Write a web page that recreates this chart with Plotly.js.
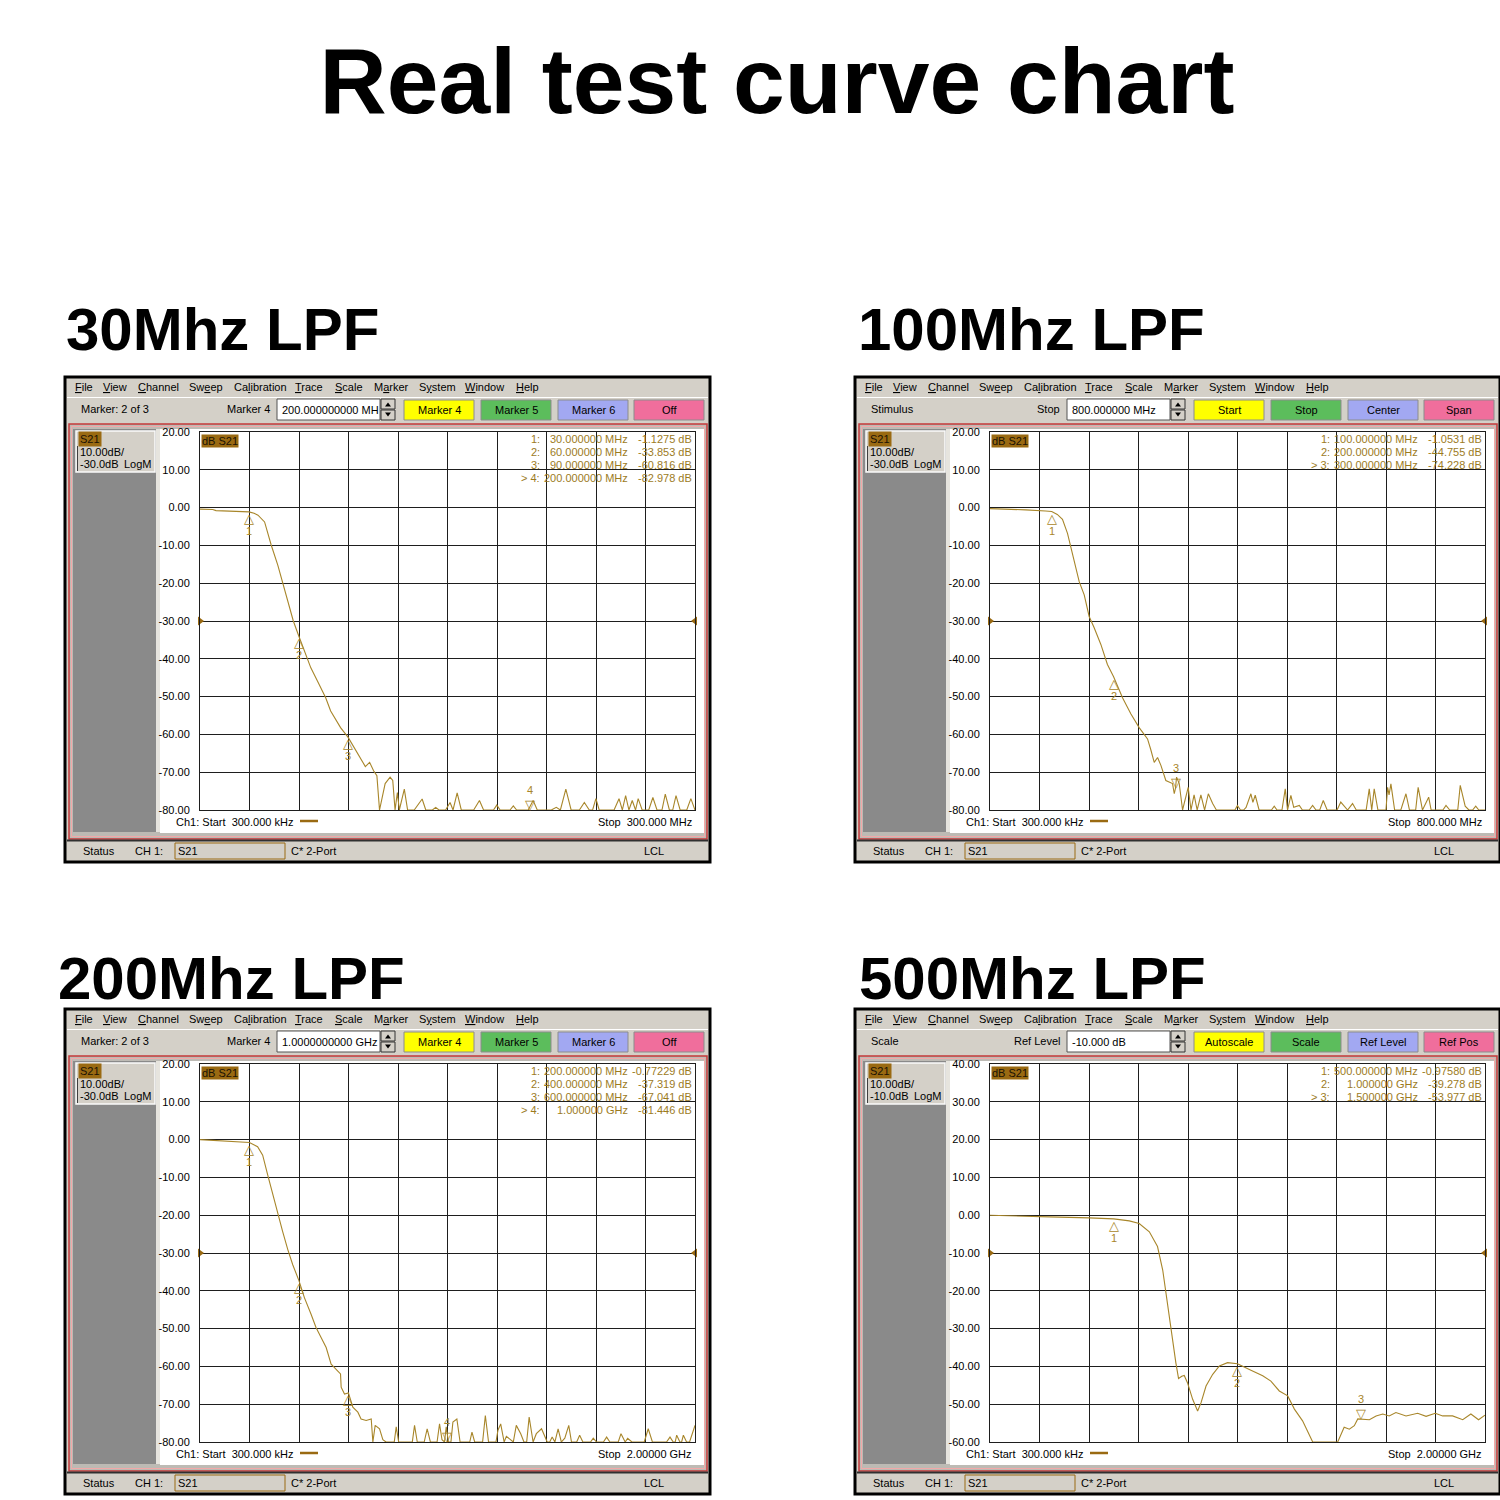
<!DOCTYPE html>
<html><head><meta charset="utf-8">
<script src="https://cdn.plot.ly/plotly-3.0.1.min.js"></script>
<style>html,body{margin:0;padding:0;background:#fff}#chart{width:1500px;height:1500px}</style>
</head><body><div id="chart"></div>
<script>
// ---------------- DATA ----------------
const titleText = 'Real test curve chart';
const headings = ['30Mhz LPF', '100Mhz LPF', '200Mhz LPF', '500Mhz LPF'];

// Panel 1: 30 MHz LPF (MHz, dB)
const p1FreqA = [0.3, 8, 10, 25, 30, 33, 35.4, 39.4, 43.4, 47.4, 50.4, 53.4, 56.8, 60, 63.4, 67.4, 71.4, 76.4, 79.4, 85.4, 90, 95.4, 98.4, 100.4, 103, 105.4, 107.4, 109, 112.4, 115.4, 117, 118.4, 119.8, 121, 124, 126];
const p1GainA = [-0.4, -0.5, -0.8, -1.0, -1.13, -1.5, -2.0, -3.8, -9.9, -15.2, -20, -24.8, -30, -33.85, -38, -42.4, -45.9, -50.3, -53.8, -58.2, -60.8, -64.7, -66.9, -68.5, -67.4, -69.6, -70.9, -80, -73, -71.3, -72.2, -80, -75.4, -80, -74.5, -80];
const p1FreqB = [130, 134.8, 137, 141, 143, 145, 149, 151.7, 153.5, 156, 158.5, 166, 169.5, 172, 178, 180, 182, 188, 190, 192, 196, 199, 202, 204.5, 213, 216, 218.5, 221.8, 225, 230, 233, 236, 238, 240, 242, 251, 254, 256, 258, 260, 262, 264, 265.6, 268, 272, 274.5, 277, 280, 282, 284.5, 286.5, 288.5, 291, 295, 297.5, 300];
const p1GainB = [-80, -77.1, -80, -80, -79.3, -80, -80, -78, -80, -75.5, -80, -80, -77.5, -80, -80, -78.7, -80, -80, -78.9, -80, -80, -80, -77.5, -80, -80, -79.3, -80, -74.5, -80, -80, -78, -80, -80, -77, -80, -80, -77, -80, -76.2, -80, -77.5, -80, -77, -80, -80, -76.7, -80, -80, -75.8, -80, -80, -76.2, -80, -80, -77, -80];
const p1MarkFreq = [30, 60, 90, 200];
const p1MarkVal = [-1.1275, -33.853, -60.816, -82.978];
const p1Table = [['1:', '30.000000 MHz', '-1.1275 dB'], ['2:', '60.000000 MHz', '-33.853 dB'], ['3:', '90.000000 MHz', '-60.816 dB'], ['> 4:', '200.000000 MHz', '-82.978 dB']];

// Panel 2: 100 MHz LPF
const p2FreqA = [0.3, 39, 58, 90, 100, 109, 117.4, 125.5, 133.6, 144.4, 152.5, 160.5, 168.6, 179.4, 190, 200, 214.4, 228, 241.3, 254.8, 260, 265.6, 271, 276.4, 284.4, 295.2, 298, 300, 301.7, 306, 311.4];
const p2GainA = [-0.26, -0.4, -0.6, -0.9, -1.05, -1.8, -3.1, -6.8, -12.1, -19.6, -23.1, -28.8, -31.8, -36.2, -41.5, -44.76, -50.3, -54.6, -58.2, -61.2, -64, -67.4, -66.1, -68.2, -72.2, -73, -75.7, -74.2, -71.3, -73, -80];
const p2FreqB = [320.5, 325, 330, 335, 341, 347, 353, 360, 366, 396, 400, 405, 410, 414, 421.8, 425, 428.8, 435, 455, 459.5, 464, 472, 477.3, 481, 486.4, 491, 500, 505, 516, 521.5, 527, 533, 538.7, 545, 561, 567, 572, 578, 586, 592, 608, 613, 617, 621, 627, 640, 642.7, 645, 648, 654, 664, 672.3, 678, 688, 692, 699, 709, 713, 732, 737, 743, 756, 760, 768, 774, 780, 785, 790, 800];
const p2GainB = [-74, -80, -76, -80, -76, -80, -75.7, -78.3, -80, -80, -78.8, -80, -80, -79.3, -75.7, -78, -76.1, -80, -80, -79, -80, -80, -74.4, -80, -76.1, -79.3, -78.8, -80, -80, -78.8, -80, -80, -77.5, -80, -80, -77.9, -78.8, -80, -78.3, -80, -80, -74.4, -80, -74.4, -80, -80, -74, -76, -73.1, -80, -80, -75.7, -80, -80, -74, -80, -76.6, -80, -80, -78.8, -80, -80, -73.5, -79, -80, -80, -79, -80, -80];
const p2MarkFreq = [100, 200, 300];
const p2MarkVal = [-1.0531, -44.755, -74.228];
const p2Table = [['1:', '100.000000 MHz', '-1.0531 dB'], ['2:', '200.000000 MHz', '-44.755 dB'], ['> 3:', '300.000000 MHz', '-74.228 dB']];

// Panel 3: 200 MHz LPF
const p3FreqA = [0.3, 112, 180, 200, 233, 253.5, 274, 294, 314, 334, 355, 375, 400, 422, 449, 469, 490, 510, 530, 550.6, 568, 570.6, 584, 600, 617.7, 638, 651, 671.6, 692, 698.6, 708, 725.6, 739, 752];
const p3GainA = [0, -0.35, -0.6, -0.77, -1.9, -4.1, -9.4, -14.6, -19.5, -24.3, -29.1, -33.1, -37.32, -41.8, -46.2, -49.7, -52.4, -55, -59.4, -60.7, -62, -65.5, -67.3, -67.04, -70.8, -72.1, -73.9, -74.3, -73.9, -80, -75.6, -76.5, -79.4, -80];
const p3FreqB = [785, 793, 803, 820, 858, 867, 878, 906, 918, 931, 958, 968, 978, 988, 995, 1004, 1014, 1022, 1038, 1051, 1090, 1099, 1110, 1142, 1153, 1166, 1196, 1204, 1215, 1229, 1238, 1266, 1278, 1296, 1309, 1320, 1330, 1346, 1359, 1380, 1390, 1403, 1413, 1423, 1434, 1447, 1460, 1474, 1490, 1501, 1522, 1534, 1547, 1578, 1589, 1602, 1630, 1643, 1656, 1690, 1701, 1718, 1728, 1745, 1795, 1811, 1828, 1885, 1899, 1912, 1920, 1926, 1939, 1946, 1953, 1966, 1978, 2000];
const p3GainB = [-80, -76, -80, -80, -80, -75.6, -80, -80, -76.5, -80, -80, -75.2, -79.4, -80, -76, -80, -80, -74.7, -73.9, -80, -80, -77.4, -80, -80, -73, -80, -80, -76.9, -75.2, -80, -78.5, -80, -75.6, -77.8, -80, -80, -73.4, -80, -77.8, -76.5, -78.2, -80, -80, -78.7, -80, -76.5, -80, -79, -75.6, -80, -80, -78.2, -80, -80, -79, -80, -80, -78.7, -80, -80, -77.8, -80, -79, -80, -80, -76.5, -80, -80, -78.7, -80, -80, -78.2, -80, -80, -78.2, -80, -80, -75.6];
const p3MarkFreq = [200, 400, 600, 1000];
const p3MarkVal = [-0.77229, -37.319, -67.041, -81.446];
const p3Table = [['1:', '200.000000 MHz', '-0.77229 dB'], ['2:', '400.000000 MHz', '-37.319 dB'], ['3:', '600.000000 MHz', '-67.041 dB'], ['> 4:', '1.000000 GHz', '-81.446 dB']];

// Panel 4: 500 MHz LPF
const p4Freq = [0.3, 112, 240, 401, 500, 563, 603, 644, 677, 698, 711, 724, 738, 751, 762, 775, 785, 798, 819, 839, 853, 873, 900, 927, 960, 1000, 1048, 1102, 1135, 1169, 1203, 1230, 1263, 1283, 1304, 1405, 1431, 1452, 1472, 1486, 1500, 1533, 1560, 1587, 1613, 1640, 1681, 1728, 1762, 1799, 1829, 1869, 1910, 1943, 1974, 2000];
const p4Gain = [0, -0.26, -0.44, -0.7, -0.98, -1.5, -2.2, -4.4, -8.3, -14.5, -20.6, -27.6, -33.8, -39, -43.2, -42.6, -42.4, -44.3, -48.7, -51.8, -49.6, -45.2, -42.1, -39.9, -39, -39.28, -40.8, -42.5, -43.9, -46.5, -47.8, -51.3, -54.4, -57, -60, -60, -56.1, -56.6, -55.7, -53.9, -53.98, -54.1, -53.1, -52.6, -53.1, -52.2, -53.1, -52.4, -53.2, -52.4, -53.1, -53.1, -54.1, -52.6, -54.1, -52.9];
const p4MarkFreq = [500, 1000, 1500];
const p4MarkVal = [-0.9758, -39.278, -53.977];
const p4Table = [['1:', '500.000000 MHz', '-0.97580 dB'], ['2:', '1.000000 GHz', '-39.278 dB'], ['> 3:', '1.500000 GHz', '-53.977 dB']];

// axis ticks
const yTicksA = [20, 10, 0, -10, -20, -30, -40, -50, -60, -70, -80];
const yLabelsA = ['20.00', '10.00', '0.00', '-10.00', '-20.00', '-30.00', '-40.00', '-50.00', '-60.00', '-70.00', '-80.00'];
const yTicksB = [40, 30, 20, 10, 0, -10, -20, -30, -40, -50, -60];
const yLabelsB = ['40.00', '30.00', '20.00', '10.00', '0.00', '-10.00', '-20.00', '-30.00', '-40.00', '-50.00', '-60.00'];

// UI texts
const menuItems = ['<u>F</u>ile', '<u>V</u>iew', '<u>C</u>hannel', 'Sw<u>e</u>ep', 'Ca<u>l</u>ibration', '<u>T</u>race', '<u>S</u>cale', 'M<u>a</u>rker', 'S<u>y</u>stem', '<u>W</u>indow', '<u>H</u>elp'];
const menuX = [74, 102, 137, 188, 233, 294, 334, 373, 418, 464, 515];
const toolbarLeft = ['Marker: 2 of 3', 'Stimulus', 'Marker: 2 of 3', 'Scale'];
const toolbarLabel = ['Marker 4', 'Stop', 'Marker 4', 'Ref Level'];
const toolbarBox = ['200.000000000 MH', '800.000000 MHz', '1.0000000000 GHz', '-10.000 dB'];
const buttonTexts = [['Marker 4', 'Marker 5', 'Marker 6', 'Off'], ['Start', 'Stop', 'Center', 'Span'], ['Marker 4', 'Marker 5', 'Marker 6', 'Off'], ['Autoscale', 'Scale', 'Ref Level', 'Ref Pos']];
const refTexts = ['-30.0dB', '-30.0dB', '-30.0dB', '-10.0dB'];
const stopTexts = ['Stop  300.000 MHz', 'Stop  800.000 MHz', 'Stop  2.00000 GHz', 'Stop  2.00000 GHz'];

// ---------------- DRAWING ----------------
const W = 1500;
const FONT = 'Liberation Sans, Arial, sans-serif';
const TRACE = '#a8862a';
const MTXT = '#9c7b1e';
const BROWN = '#9a6a12';
const GRAY = '#d4d0c8';
const PX = x => x / W, PY = y => 1 - y / W;
const shapes = [], ann = [];

function rect(x0, y0, x1, y1, fill, line, lw) {
  shapes.push({type: 'rect', xref: 'paper', yref: 'paper', x0: PX(x0), x1: PX(x1), y0: PY(y1), y1: PY(y0),
    fillcolor: fill || 'rgba(0,0,0,0)', line: {color: line || 'rgba(0,0,0,0)', width: line ? (lw || 1) : 0}, layer: 'below'});
}
function seg(x0, y0, x1, y1, c, w) {
  shapes.push({type: 'line', xref: 'paper', yref: 'paper', x0: PX(x0), x1: PX(x1), y0: PY(y0), y1: PY(y1), line: {color: c, width: w || 1}, layer: 'below'});
}
function poly(pts, fill) {
  const d = pts.map((p, k) => (k ? 'L' : 'M') + PX(p[0]).toFixed(5) + ',' + PY(p[1]).toFixed(5)).join(' ') + ' Z';
  shapes.push({type: 'path', xref: 'paper', yref: 'paper', path: d, fillcolor: fill, line: {width: 0}, layer: 'below'});
}
function txt(x, y, t, o) {
  o = o || {};
  ann.push({xref: 'paper', yref: 'paper', x: PX(x), y: PY(y), text: t, showarrow: false,
    xanchor: o.anchor || 'left', yanchor: 'middle', borderpad: o.pad === undefined ? 0 : o.pad,
    bgcolor: o.bg || 'rgba(0,0,0,0)',
    font: {family: FONT, size: o.size || 11, color: o.color || '#000'}});
}

const panels = [
  {ox: 0, oy: 0, hx: 65, hy: 330, f: p1FreqA.concat(p1FreqB), g: p1GainA.concat(p1GainB), stop: 300, ymin: -80, ymax: 20, ref: -30, tv: yTicksA, tl: yLabelsA, mf: p1MarkFreq, mv: p1MarkVal, table: p1Table},
  {ox: 790, oy: 0, hx: 857, hy: 330, f: p2FreqA.concat(p2FreqB), g: p2GainA.concat(p2GainB), stop: 800, ymin: -80, ymax: 20, ref: -30, tv: yTicksA, tl: yLabelsA, mf: p2MarkFreq, mv: p2MarkVal, table: p2Table},
  {ox: 0, oy: 632, hx: 57, hy: 979, f: p3FreqA.concat(p3FreqB), g: p3GainA.concat(p3GainB), stop: 2000, ymin: -80, ymax: 20, ref: -30, tv: yTicksA, tl: yLabelsA, mf: p3MarkFreq, mv: p3MarkVal, table: p3Table},
  {ox: 790, oy: 632, hx: 858, hy: 979, f: p4Freq, g: p4Gain, stop: 2000, ymin: -60, ymax: 40, ref: -10, tv: yTicksB, tl: yLabelsB, mf: p4MarkFreq, mv: p4MarkVal, table: p4Table}
];

const btnX = [[404, 474], [481, 551], [558, 628], [634, 704]];
const btnC = ['#ffff00', '#5cbd5c', '#a2a8f2', '#f06e9c'];

const traces = [];
const layout = {
  width: W, height: W, margin: {l: 0, r: 0, t: 0, b: 0},
  paper_bgcolor: '#ffffff', plot_bgcolor: 'rgba(0,0,0,0)', showlegend: false,
  title: {text: '<b>' + titleText + '</b>', x: 777 / W, xanchor: 'center', y: PY(80), yanchor: 'middle', font: {family: FONT, size: 93, color: '#000'}},
  shapes: shapes, annotations: ann
};

panels.forEach((p, i) => {
  const n = i + 1;
  const X = v => v + p.ox, Y = v => v + p.oy;
  const xa = n === 1 ? 'x' : 'x' + n, ya = n === 1 ? 'y' : 'y' + n;

  // heading
  ann.push({xref: 'paper', yref: 'paper', x: PX(p.hx), y: PY(p.hy), text: '<b>' + headings[i] + '</b>', showarrow: false,
    xanchor: 'left', yanchor: 'middle', borderpad: 0, font: {family: FONT, size: 60, color: '#000'}});

  // window
  rect(X(65), Y(377), X(710), Y(862), GRAY, '#000', 3);
  menuItems.forEach((m, k) => txt(X(menuX[k]), Y(387), m));
  seg(X(67), Y(397.5), X(708), Y(397.5), '#ffffff', 1);

  // toolbar
  txt(X(80), Y(409), toolbarLeft[i]);
  txt(X(271), Y(409), toolbarLabel[i], {anchor: 'right'});
  rect(X(277), Y(399), X(380), Y(420), '#ffffff', '#555555', 1);
  txt(X(281), Y(409.5), toolbarBox[i]);
  rect(X(381), Y(399), X(395), Y(409), GRAY, '#333333', 1);
  rect(X(381), Y(410), X(395), Y(420), GRAY, '#333333', 1);
  poly([[X(385), Y(406.5)], [X(391), Y(406.5)], [X(388), Y(402.5)]], '#000');
  poly([[X(385), Y(412.5)], [X(391), Y(412.5)], [X(388), Y(416.5)]], '#000');
  btnX.forEach((b, k) => {
    rect(X(b[0]), Y(400), X(b[1]), Y(420), btnC[k], '#8c8c8c', 1);
    txt(X((b[0] + b[1]) / 2), Y(410), buttonTexts[i][k], {anchor: 'center'});
  });

  // red frame
  rect(X(69), Y(424), X(707), Y(839), '#bdbab4', '#c43a3a', 1.5);
  rect(X(71.5), Y(426.5), X(704.5), Y(836.5), null, '#f2a8a8', 1);

  // left panel
  rect(X(73), Y(429), X(156), Y(832), '#8a8a8a');
  rect(X(156), Y(429), X(160), Y(832), '#e6e4de');
  rect(X(76), Y(431), X(155), Y(472), GRAY, '#fafafa', 1.5);
  seg(X(77.5), Y(446), X(77.5), Y(471), '#404040', 1);
  txt(X(78), Y(439), 'S21', {bg: BROWN, pad: 1, color: '#1b1204'});
  txt(X(79), Y(452), '10.00dB/');
  txt(X(79), Y(464), refTexts[i]);
  txt(X(153), Y(464), 'LogM', {anchor: 'right'});

  // plot panel
  rect(X(160), Y(429), X(704), Y(833), '#ffffff');
  txt(X(201), Y(441), 'dB S21', {bg: BROWN, color: '#1b1204'});
  p.table.forEach((row, r) => {
    const yy = Y(439 + 13 * r);
    txt(X(541), yy, row[0], {anchor: 'right', color: MTXT});
    txt(X(629), yy, row[1], {anchor: 'right', color: MTXT});
    txt(X(693), yy, row[2], {anchor: 'right', color: MTXT});
  });
  txt(X(175), Y(822), 'Ch1: Start  300.000 kHz');
  seg(X(300), Y(821), X(318), Y(821), BROWN, 2.5);
  txt(X(693), Y(822), stopTexts[i], {anchor: 'right'});

  // status bar
  seg(X(67), Y(840.5), X(708), Y(840.5), '#303030', 2);
  txt(X(82), Y(851), 'Status');
  txt(X(134), Y(851), 'CH 1:');
  rect(X(175), Y(843), X(285), Y(859), null, BROWN, 1);
  txt(X(177), Y(851), 'S21');
  txt(X(290), Y(851), 'C* 2-Port');
  txt(X(643), Y(851), 'LCL');

  // axes
  layout['xaxis' + (n === 1 ? '' : n)] = {
    domain: [PX(X(200)), PX(X(695))], anchor: ya, range: [0.3, p.stop],
    tickmode: 'linear', tick0: 0.3, dtick: (p.stop - 0.3) / 10, showticklabels: false, ticks: '',
    showgrid: true, gridcolor: '#1e1e1e', gridwidth: 1, zeroline: false,
    showline: true, mirror: true, linecolor: '#1e1e1e', linewidth: 1, fixedrange: true
  };
  layout['yaxis' + (n === 1 ? '' : n)] = {
    domain: [PY(Y(810)), PY(Y(432))], anchor: xa, range: [p.ymin, p.ymax],
    tickmode: 'array', tickvals: p.tv, ticktext: p.tl, ticks: '', ticklabelstandoff: 7,
    tickfont: {family: FONT, size: 11, color: '#000'},
    showgrid: true, gridcolor: '#1e1e1e', gridwidth: 1, zeroline: false,
    showline: true, mirror: true, linecolor: '#1e1e1e', linewidth: 1, fixedrange: true
  };

  // trace
  traces.push({type: 'scatter', mode: 'lines', x: p.f, y: p.g, xaxis: xa, yaxis: ya,
    line: {color: TRACE, width: 1.1}, hoverinfo: 'skip'});
  // reference position arrows
  traces.push({type: 'scatter', mode: 'markers', x: [0.3], y: [p.ref], xaxis: xa, yaxis: ya, cliponaxis: false,
    marker: {symbol: 'triangle-right', size: 8, color: BROWN}, hoverinfo: 'skip'});
  traces.push({type: 'scatter', mode: 'markers', x: [p.stop], y: [p.ref], xaxis: xa, yaxis: ya, cliponaxis: false,
    marker: {symbol: 'triangle-left', size: 8, color: BROWN}, hoverinfo: 'skip'});

  // markers
  const active = p.mf.length - 1;
  p.mf.forEach((f, k) => {
    const v = Math.max(p.mv[k], p.ymin);
    const base = {xref: xa, yref: ya, x: f, y: v, showarrow: false, xanchor: 'center', borderpad: 0};
    if (k === active) {
      ann.push(Object.assign({}, base, {text: '▽', yanchor: 'bottom', yshift: -3, font: {family: 'DejaVu Sans', size: 13, color: TRACE}}));
      ann.push(Object.assign({}, base, {text: String(k + 1), yanchor: 'bottom', yshift: 13, font: {family: FONT, size: 11, color: TRACE}}));
    } else {
      ann.push(Object.assign({}, base, {text: '△', yanchor: 'top', yshift: 2, font: {family: 'DejaVu Sans', size: 13, color: TRACE}}));
      ann.push(Object.assign({}, base, {text: String(k + 1), yanchor: 'top', yshift: -12, font: {family: FONT, size: 11, color: TRACE}}));
    }
  });
});

Plotly.newPlot('chart', traces, layout, {staticPlot: true, displayModeBar: false});
</script></body></html>
